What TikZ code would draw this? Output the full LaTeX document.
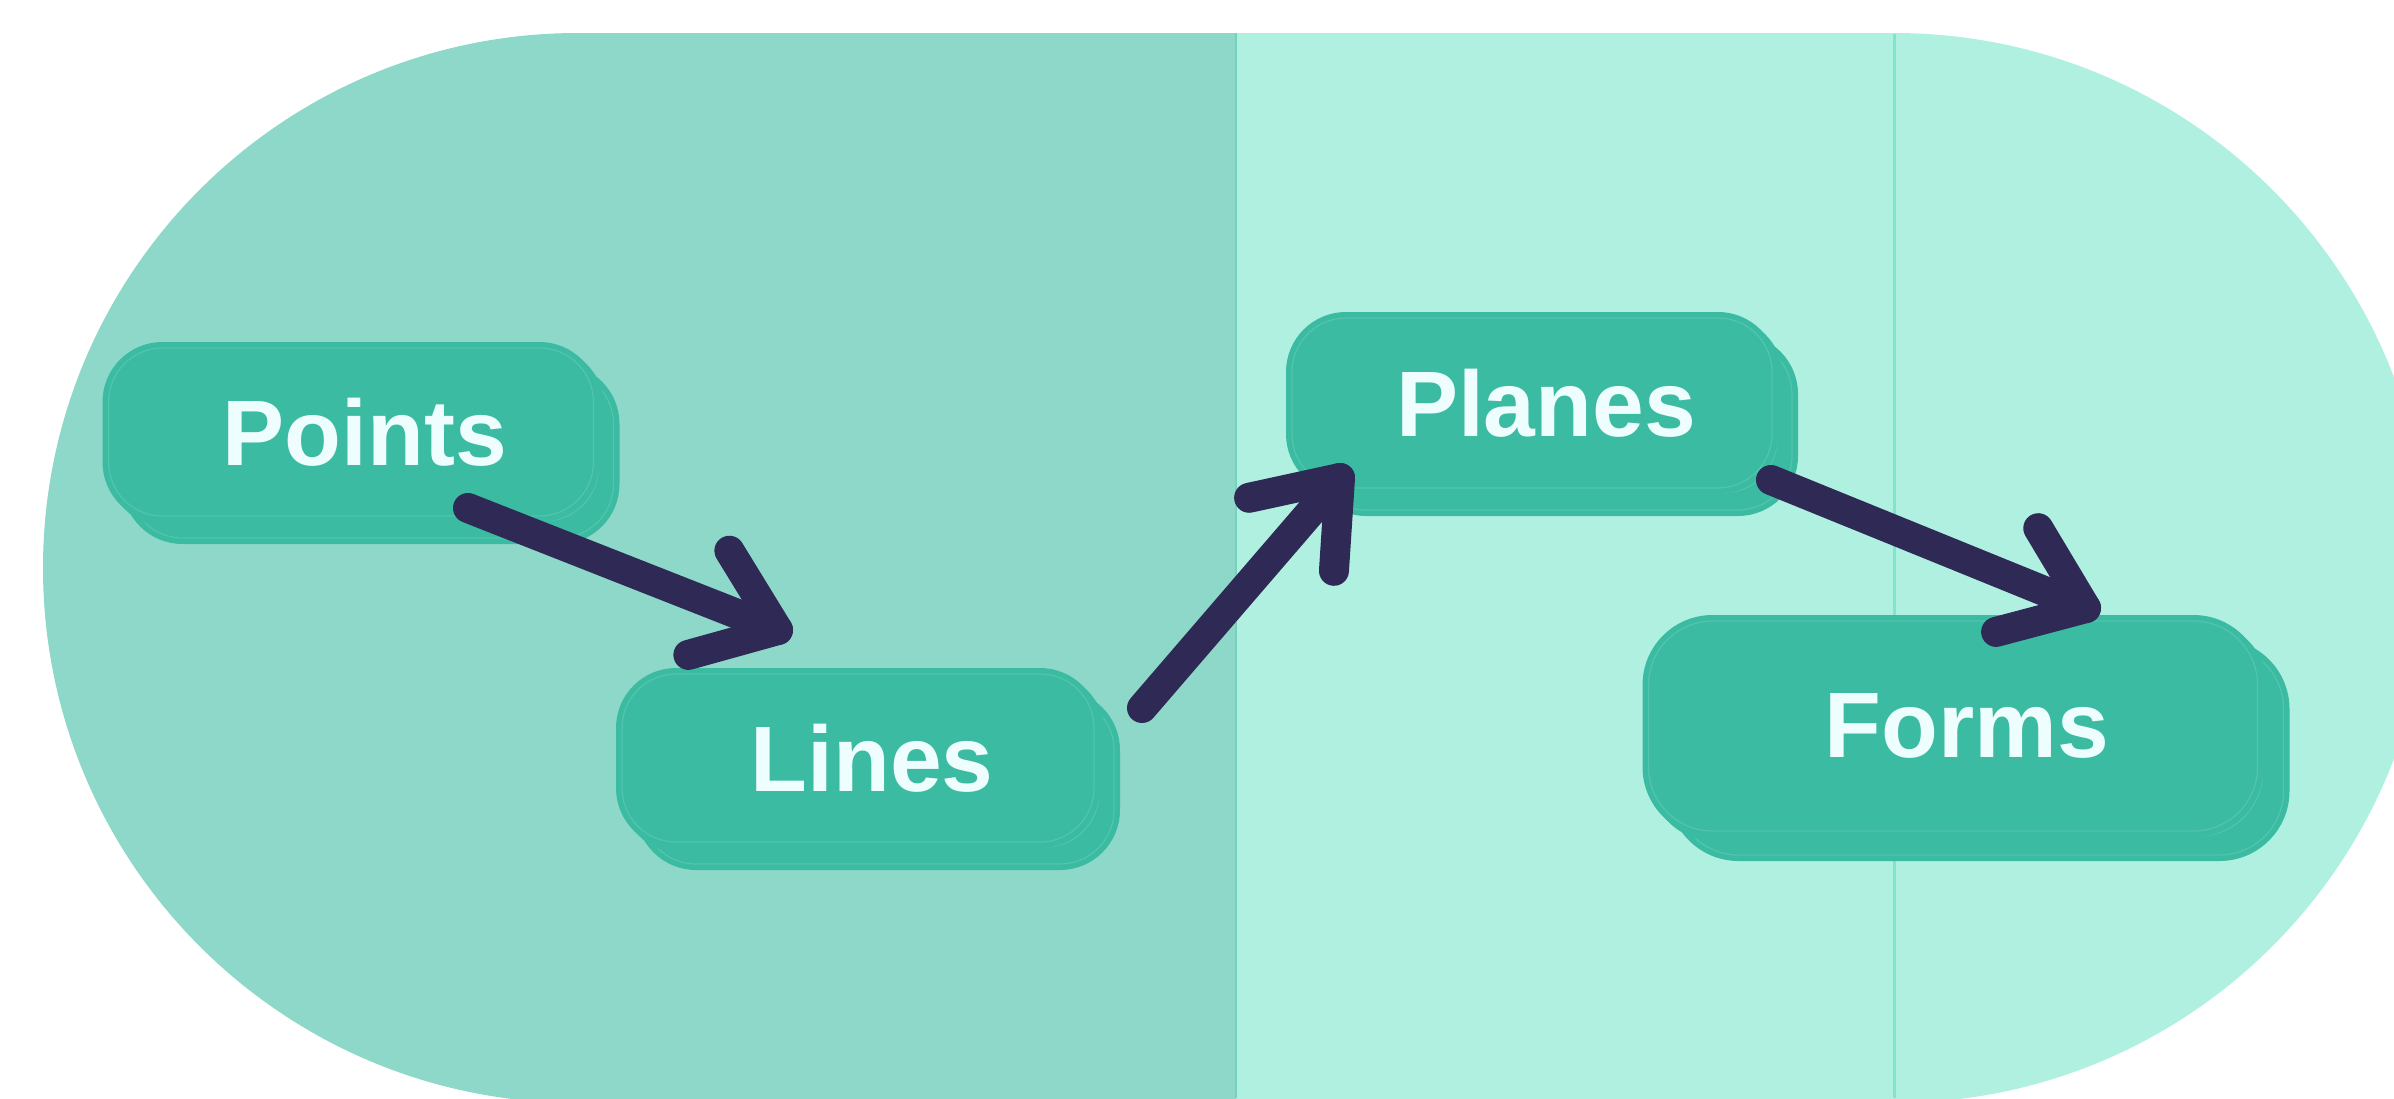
\documentclass[tikz,border=0pt]{standalone}
\usepackage{fontspec}
\setmainfont{Liberation Sans}
\usetikzlibrary{calc,shadows}

\definecolor{leftband}{HTML}{8ED8C9}
\definecolor{rightband}{HTML}{B0F0E1}
\definecolor{guide}{HTML}{7DE6CD}
\definecolor{seam}{HTML}{74D2BD}
\definecolor{nodefill}{HTML}{3BBBA1}
\definecolor{edgeline}{HTML}{52C5AD}
\definecolor{labeltext}{HTML}{EEFDFD}
\definecolor{arrowcol}{HTML}{2E2A55}

\tikzset{
  % one layer of a card: a filled body grown by 6pt around the path
  layerfill/.style={fill=nodefill, draw=nodefill, line width=12pt},
  % the thin inner outline of a layer
  layerline/.style={fill=none, draw=edgeline, line width=1.2pt},
  % a stacked card: back layer, middle layer and front layer
  stackbox/.style args={#1/#2}{
    rectangle, rounded corners=54pt, inner sep=0pt,
    general shadow={shadow xshift=#1pt, shadow yshift=-#2pt, layerfill},
    general shadow={shadow xshift=#1pt, shadow yshift=-#2pt, layerline},
    general shadow={shadow xshift=5pt, shadow yshift=-5pt, layerfill},
    general shadow={shadow xshift=5pt, shadow yshift=-5pt, layerline},
    preaction={layerfill},
    layerline,
    text=labeltext,
    font=\bfseries\fontsize{93pt}{93pt}\selectfont,
    % labels sit a little right of the front card's centre
    execute at begin node={\hspace*{28pt}}
  },
  flow/.style={draw=arrowcol, line width=30pt, line cap=round, line join=round},
}

\begin{document}
\begin{tikzpicture}[x=1pt, y=-1pt]
\useasboundingbox (0,0) rectangle (2394,1098);

% background bands
\begin{scope}
  \clip (0,0) rectangle (2394,1098);
  \fill[leftband] (1236,33) -- (578,33)
    arc[start angle=90, end angle=270, radius=535pt] -- (1236,1103) -- cycle;
  \fill[rightband] (1236,33) -- (1894,33)
    arc[start angle=90, end angle=-90, radius=535pt] -- (1236,1103) -- cycle;
  \draw[seam, line width=1.5pt] (1236,33) -- (1236,1098);
  \draw[guide, line width=3pt] (1894,34) -- (1894,1098);
\end{scope}

% cards
\node[stackbox=20/22, minimum width=485pt, minimum height=168pt] (points) at (351,432) {Points};
\node[stackbox=20/22, minimum width=472pt, minimum height=168pt] (lines) at (858,758) {Lines};
\node[stackbox=20/22, minimum width=480pt, minimum height=170pt] (planes) at (1532,403) {Planes};
\node[stackbox=26/24, minimum width=609pt, minimum height=210pt, rounded corners=64pt] (forms) at (1953,726) {Forms};

% arrow ends
\coordinate (p1) at (468,508);  \coordinate (q1) at (778,630);
\coordinate (p2) at (1142,708); \coordinate (q2) at (1340,478);
\coordinate (p3) at (1771,480); \coordinate (q3) at (2086,608);

% arrows with open chevron heads
\foreach \s/\t in {p1/q1, p2/q2, p3/q3}{
  \draw[flow] (\s) -- (\t);
  \draw[flow] ($(\t)!93pt!37:(\s)$) -- (\t) -- ($(\t)!93pt!-37:(\s)$);
}
\end{tikzpicture}
\end{document}
